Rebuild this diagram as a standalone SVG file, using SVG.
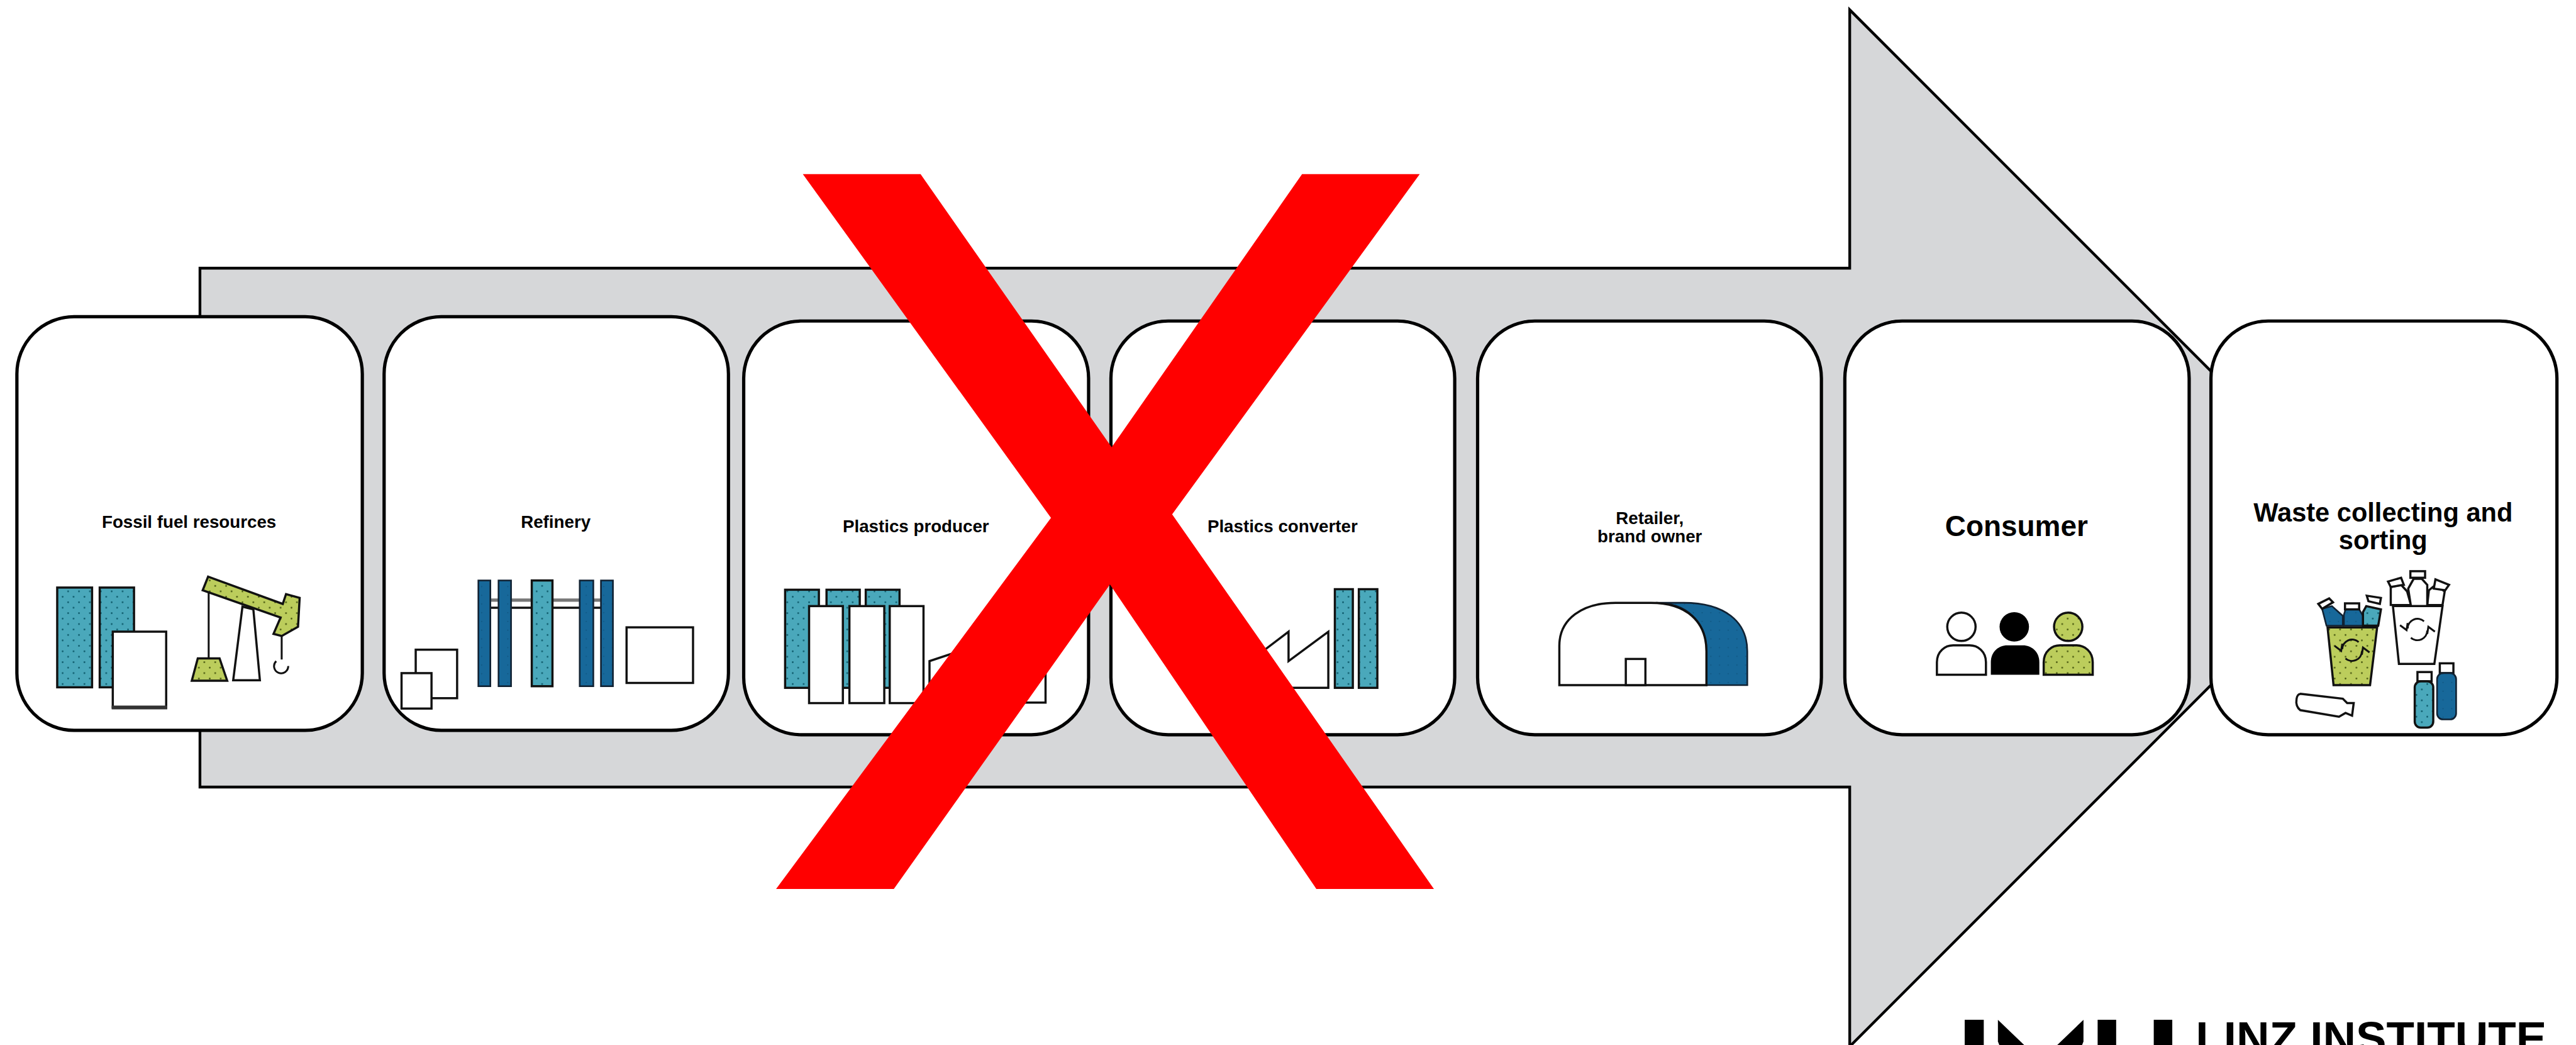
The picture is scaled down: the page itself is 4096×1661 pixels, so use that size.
<svg xmlns="http://www.w3.org/2000/svg" width="4096" height="1661" viewBox="0 0 4096 1661">
<style>
text{font-family:"Liberation Sans",Arial,sans-serif;font-weight:700;text-anchor:middle;fill:#000}
.s{font-size:32px}.m{font-size:53px}.w{font-size:48px}
.card{fill:#fff;stroke:#000;stroke-width:6}
.o{fill:#fff;stroke:#111;stroke-width:4}
.t{fill:url(#teal);stroke:#111;stroke-width:4}
.b{fill:url(#blue);stroke:#123;stroke-width:3}
.g{fill:url(#green);stroke:#111;stroke-width:4}
.l{fill:none;stroke:#111;stroke-width:3.5}
</style>
<defs>
<pattern id="teal" width="20" height="20" patternUnits="userSpaceOnUse"><rect width="20" height="20" fill="#4aa8bb"/><circle cx="5" cy="5" r="1.6" fill="#0c5a6a"/><circle cx="15" cy="15" r="1.6" fill="#0c5a6a"/></pattern>
<pattern id="blue" width="16" height="16" patternUnits="userSpaceOnUse"><rect width="16" height="16" fill="#17689a"/><circle cx="4" cy="4" r="1" fill="#0d4f78"/></pattern>
<pattern id="green" width="20" height="20" patternUnits="userSpaceOnUse"><rect width="20" height="20" fill="#bccd5c"/><circle cx="5" cy="5" r="1.6" fill="#4a5a10"/><circle cx="15" cy="15" r="1.6" fill="#4a5a10"/></pattern>
</defs>
<rect width="4096" height="1661" fill="#fff"/>
<g transform="scale(.86633)">
<g id="connectors">
<path d="M367 492H3395V18L4346 969L3395 1920V1444H367Z" fill="#d6d7d9" stroke="#000" stroke-width="5"/>
</g>
<g id="node-fossil">
<rect class="card" x="31" y="581" width="634" height="759" rx="105" ry="105"/>
<text class="s" x="347" y="968">Fossil fuel resources</text>
<rect class="t" x="105" y="1078" width="64" height="183"/>
<rect class="t" x="183" y="1078" width="63" height="183"/>
<path class="o" d="M207 1159H305V1298H207Z"/>
<path d="M205 1298H307" stroke="#333" stroke-width="7"/>
<path class="l" d="M383 1087V1208"/>
<path class="g" d="M363 1208H403L417 1249H352Z"/>
<path class="o" d="M445 1113L428 1248H477L465 1118Z"/>
<path class="g" d="M382 1058L519 1108L525 1090L550 1097L547 1150L517 1167L502 1163L515 1133L372 1083Z"/>
<path class="l" d="M517 1167V1210M507 1213A13 13 0 1 0 529 1222"/>
</g>
<g id="node-refinery">
<rect class="card" x="705" y="581" width="632" height="759" rx="105" ry="105"/>
<text class="s" x="1020" y="968">Refinery</text>
<rect class="o" x="763" y="1192" width="76" height="89"/>
<rect class="o" x="737" y="1235" width="55" height="65"/>
<path d="M895 1101H1105" stroke="#777" stroke-width="6"/>
<path d="M895 1115H1105" stroke="#111" stroke-width="4"/>
<rect class="b" x="878" y="1065" width="22" height="194"/>
<rect class="b" x="915" y="1065" width="23" height="194"/>
<rect class="t" x="976" y="1065" width="38" height="194" stroke="none"/>
<rect class="b" x="1064" y="1065" width="25" height="194"/>
<rect class="b" x="1103" y="1065" width="22" height="194"/>
<rect class="o" x="1150" y="1151" width="122" height="102"/>
</g>
<g id="node-producer">
<rect class="card" x="1365" y="589" width="633" height="759" rx="105" ry="105"/>
<text class="s" x="1681" y="976">Plastics producer</text>
<rect class="t" x="1441" y="1082" width="62" height="180"/>
<rect class="t" x="1517" y="1082" width="61" height="180"/>
<rect class="t" x="1589" y="1082" width="62" height="180"/>
<rect class="o" x="1485" y="1112" width="62" height="178"/>
<rect class="o" x="1559" y="1112" width="64" height="178"/>
<rect class="o" x="1633" y="1112" width="62" height="178"/>
<path class="o" d="M1706 1289V1213L1790 1185V1213L1919 1190V1289Z"/>
</g>
<g id="node-converter">
<rect class="card" x="2039" y="589" width="631" height="759" rx="105" ry="105"/>
<text class="s" x="2354" y="976">Plastics converter</text>
<path class="o" d="M2230 1262V1213H2294L2365 1159V1213L2438 1159V1262Z"/>
<rect class="t" x="2450" y="1081" width="33" height="181"/>
<rect class="t" x="2494" y="1081" width="34" height="181"/>
</g>
<g id="node-retailer">
<rect class="card" x="2712" y="589" width="631" height="759" rx="105" ry="105"/>
<text class="s" x="3028" y="961">Retailer,</text>
<text class="s" x="3028" y="995">brand owner</text>
<path class="b" d="M3039 1106H3090C3165 1106 3207 1140 3207 1195V1257H3132V1195C3132 1140 3095 1106 3039 1106Z"/>
<path class="o" d="M2862 1257V1185C2862 1135 2905 1106 2965 1106H3030C3095 1106 3132 1140 3132 1195V1257Z"/>
<rect class="o" x="2984" y="1209" width="36" height="48"/>
</g>
<g id="node-consumer">
<rect class="card" x="3386" y="589" width="632" height="759" rx="105" ry="105"/>
<text class="m" x="3701" y="983">Consumer</text>
<ellipse class="o" cx="3600" cy="1150" rx="26" ry="26"/>
<path class="o" d="M3555 1238V1215C3555 1195 3570 1184 3585 1184H3615C3630 1184 3645 1195 3645 1215V1238Z"/>
<ellipse cx="3697" cy="1150" rx="27" ry="27" fill="#000"/>
<path fill="#000" d="M3654 1238V1215C3654 1195 3669 1184 3684 1184H3713C3728 1184 3743 1195 3743 1215V1238Z"/>
<ellipse class="g" cx="3796" cy="1150" rx="26" ry="26"/>
<path class="g" d="M3751 1238V1215C3751 1195 3766 1184 3781 1184H3811C3826 1184 3841 1195 3841 1215V1238Z"/>
</g>
<g id="node-waste">
<rect class="card" x="4058" y="589" width="635" height="759" rx="105" ry="105"/>
<text class="w" x="4374" y="957">Waste collecting and</text>
<text class="w" x="4374" y="1008">sorting</text>
<path class="b" d="M4262 1117L4280 1112L4300 1130V1148H4270Z"/>
<path class="b" d="M4302 1128L4305 1118H4330L4337 1130V1148H4302Z"/>
<path class="t" stroke="none" d="M4337 1148V1123L4343 1112L4370 1118L4365 1148Z"/>
<path class="o" d="M4255 1108L4275 1098L4282 1105L4262 1117Z"/>
<rect class="o" x="4304" y="1107" width="26" height="11"/>
<path class="o" d="M4344 1093L4370 1097L4368 1108L4347 1103Z"/>
<path class="g" d="M4272 1151H4363L4350 1257H4283Z"/>
<path class="l" d="M4299 1191A18 18 0 0 1 4329 1178M4335 1195A18 18 0 0 1 4305 1208M4285 1185L4297 1194L4299 1181M4349 1197L4337 1188L4335 1201"/>
<path class="o" d="M4388 1077V1110H4425L4418 1085L4407 1073Z"/>
<path class="o" d="M4383 1067L4407 1060L4412 1073L4388 1077Z"/>
<path class="o" d="M4458 1083L4470 1073L4487 1085L4483 1110H4455Z"/>
<path class="o" d="M4470 1063L4495 1073L4488 1083L4467 1080Z"/>
<path class="o" d="M4430 1062H4445L4455 1073V1112H4425L4420 1080Z"/>
<rect class="o" x="4424" y="1048" width="27" height="12"/>
<path class="o" d="M4392 1112H4483L4468 1218H4403Z"/>
<path class="l" d="M4419 1153A18 18 0 0 1 4449 1140M4455 1157A18 18 0 0 1 4425 1170M4405 1147L4417 1156L4419 1143M4469 1159L4457 1150L4455 1163"/>
<path class="o" d="M4222 1273L4300 1282L4308 1290H4320L4317 1313L4305 1308L4293 1315L4222 1303Q4213 1296 4215 1283Q4216 1274 4222 1273Z"/>
<rect class="o" x="4478" y="1217" width="25" height="18"/>
<rect class="b" x="4473" y="1235" width="35" height="85" rx="11"/>
<rect class="o" x="4437" y="1233" width="26" height="17"/>
<rect class="t" x="4432" y="1250" width="34" height="85" rx="11"/>
</g>
<g id="cross"><text transform="translate(2027 1622) skewX(-.5)" style="font-size:1880px;font-weight:400;fill:#f00;stroke:#f00;stroke-width:18">X</text></g>
<g id="logo" fill="#000">
<rect x="3606" y="1871" width="35" height="50"/>
<path d="M3667 1871L3719 1921H3671L3667 1911Z"/>
<path d="M3824 1871L3772 1921H3820L3824 1911Z"/>
<rect x="3850" y="1871" width="34" height="50"/>
<rect x="3953" y="1871" width="34" height="50"/>
<text x="4352" y="1933" style="font-size:84px">LINZ INSTITUTE</text>
</g>
</g>
</svg>
